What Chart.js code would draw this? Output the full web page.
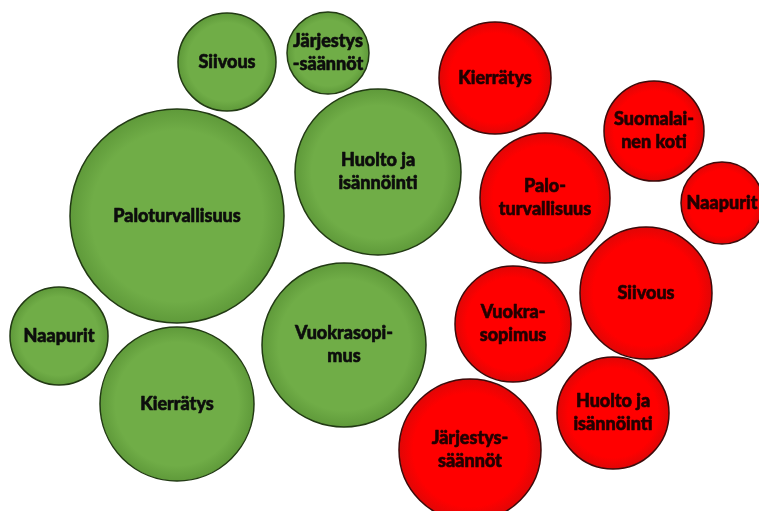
<!DOCTYPE html>
<html>
<head>
<meta charset="utf-8">
<script src="https://cdn.jsdelivr.net/npm/chart.js@4.4.1/dist/chart.umd.min.js"></script>
<style>
  html, body { margin: 0; padding: 0; background: #fff; }
  #wrap { width: 759px; height: 511px; position: relative; }
</style>
</head>
<body>
<div id="wrap"><canvas id="bubbles"></canvas></div>
<script>
// vihreät pallot
const greenLabels = ['Siivous', 'Järjestys\n-säännöt', 'Paloturvallisuus', 'Huolto ja\nisännöinti', 'Naapurit', 'Kierrätys', 'Vuokrasopi-\nmus'];
const greenX = [227, 328, 177, 378, 59, 177, 344];
const greenY = [62, 53, 216, 172, 336, 404, 345];
const greenR = [49, 41, 107, 83, 49, 77, 82];

// punaiset pallot
const redLabels = ['Kierrätys', 'Suomalai-\nnen koti', 'Palo-\nturvallisuus', 'Naapurit', 'Siivous', 'Vuokra-\nsopimus', 'Huolto ja\nisännöinti', 'Järjestys-\nsäännöt'];
const redX = [495, 654, 545, 722, 646, 513, 613, 470];
const redY = [78, 131, 198, 203, 293, 324, 413, 450];
const redR = [56, 50, 65, 41, 66, 58, 56, 71];

function points(xs, ys, rs) {
  return xs.map((x, i) => ({ x: x, y: ys[i], r: rs[i] }));
}

// radial shading like the office shapes
function shade(inner, outer) {
  return function(context) {
    if (context.type !== 'data') return inner;
    const chart = context.chart;
    const raw = context.raw;
    const cx = chart.scales.x.getPixelForValue(raw.x);
    const cy = chart.scales.y.getPixelForValue(raw.y);
    if (!isFinite(cx) || !isFinite(cy)) return inner;
    const g = chart.ctx.createRadialGradient(cx, cy, 0, cx, cy, raw.r);
    g.addColorStop(0, inner);
    g.addColorStop(0.8, inner);
    g.addColorStop(1, outer);
    return g;
  };
}

const labelPlugin = {
  id: 'bubbleLabels',
  afterDatasetsDraw(chart) {
    const ctx = chart.ctx;
    ctx.save();
    ctx.font = '900 18px Lato';
    ctx.textAlign = 'center';
    ctx.textBaseline = 'middle';
    ctx.lineWidth = 0.6;
    ctx.lineJoin = 'round';
    chart.data.datasets.forEach((ds, i) => {
      const meta = chart.getDatasetMeta(i);
      ctx.fillStyle = ds.textColor;
      ctx.strokeStyle = ds.textColor;
      meta.data.forEach((el, j) => {
        const lines = ds.names[j].split('\n');
        const lh = 23;
        const top = el.y - (lines.length - 1) * lh / 2;
        lines.forEach((line, k) => {
          ctx.fillText(line, el.x, top + k * lh);
          ctx.strokeText(line, el.x, top + k * lh);
        });
      });
    });
    ctx.restore();
  }
};

const ctx = document.getElementById('bubbles');
const chart = new Chart(ctx, {
  type: 'bubble',
  data: {
    datasets: [{
      label: 'vihreä',
      names: greenLabels,
      data: points(greenX, greenY, greenR),
      backgroundColor: shade('#70AD47', '#5f9a3a'),
      borderColor: '#223a14',
      borderWidth: 1.5,
      textColor: '#0d0d0d',
      clip: false
    }, {
      label: 'punainen',
      names: redLabels,
      data: points(redX, redY, redR),
      backgroundColor: shade('#FF0000', '#e00606'),
      borderColor: '#3d0a0a',
      borderWidth: 1.5,
      textColor: '#220000',
      clip: false
    }]
  },
  options: {
    responsive: true,
    maintainAspectRatio: false,
    animation: false,
    events: [],
    layout: { padding: 0, autoPadding: false },
    plugins: {
      legend: { display: false },
      tooltip: { enabled: false }
    },
    scales: {
      x: { type: 'linear', min: 0, max: 759, display: false },
      y: { type: 'linear', min: 0, max: 511, reverse: true, display: false }
    }
  },
  plugins: [labelPlugin]
});
</script>
</body>
</html>
